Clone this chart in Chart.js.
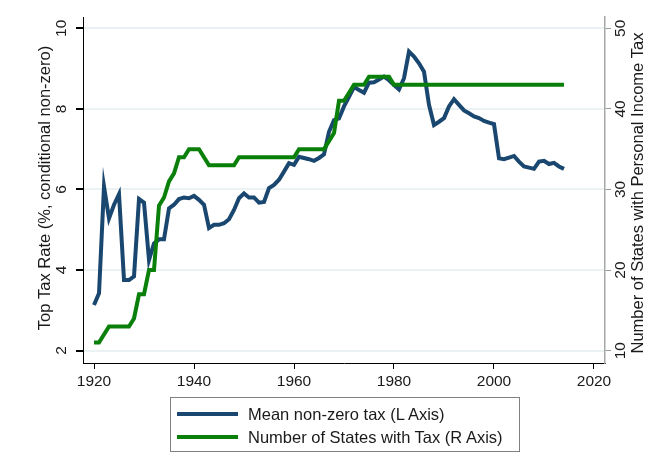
<!DOCTYPE html>
<html>
<head>
<meta charset="utf-8">
<script src="https://cdn.jsdelivr.net/npm/chart.js@4.4.1/dist/chart.umd.min.js"></script>
<style>
    body { margin: 0; background: #fff; }
    #wrap { position: relative; width: 660px; height: 471px; }
    #legend {
        position: absolute; left: 170px; top: 397px; width: 350px; height: 55px;
        border: 1px solid #808080; box-sizing: border-box;
        font-family: "Liberation Sans", Arial, sans-serif; font-size: 16.5px; color: #1a1a1a;
    }
    .row { position: absolute; left: 6px; height: 20px; display: flex; align-items: center; }
    .swatch { width: 61px; height: 4px; margin-right: 10px; }
</style>
</head>
<body>
<div id="wrap">
    <canvas id="taxChart" width="660" height="471"></canvas>
    <div id="legend"></div>
</div>
<script>
const years = [1920, 1921, 1922, 1923, 1924, 1925, 1926, 1927, 1928, 1929,
    1930, 1931, 1932, 1933, 1934, 1935, 1936, 1937, 1938, 1939,
    1940, 1941, 1942, 1943, 1944, 1945, 1946, 1947, 1948, 1949,
    1950, 1951, 1952, 1953, 1954, 1955, 1956, 1957, 1958, 1959,
    1960, 1961, 1962, 1963, 1964, 1965, 1966, 1967, 1968, 1969,
    1970, 1971, 1972, 1973, 1974, 1975, 1976, 1977, 1978, 1979,
    1980, 1981, 1982, 1983, 1984, 1985, 1986, 1987, 1988, 1989,
    1990, 1991, 1992, 1993, 1994, 1995, 1996, 1997, 1998, 1999,
    2000, 2001, 2002, 2003, 2004, 2005, 2006, 2007, 2008, 2009,
    2010, 2011, 2012, 2013, 2014];

// mean top rate among states with a tax (left axis)
const meanTax = [3.13, 3.42, 6.07, 5.28, 5.62, 5.88, 3.75, 3.75, 3.84, 5.76,
    5.67, 4.25, 4.66, 4.76, 4.76, 5.53, 5.62, 5.76, 5.80, 5.78,
    5.84, 5.74, 5.62, 5.04, 5.12, 5.12, 5.16, 5.26, 5.49, 5.78,
    5.90, 5.80, 5.80, 5.67, 5.69, 6.03, 6.11, 6.24, 6.44, 6.65,
    6.61, 6.81, 6.78, 6.75, 6.71, 6.78, 6.87, 7.43, 7.72, 7.76,
    8.06, 8.30, 8.54, 8.47, 8.40, 8.65, 8.66, 8.73, 8.80, 8.71,
    8.59, 8.48, 8.76, 9.42, 9.30, 9.13, 8.92, 8.10, 7.60, 7.68,
    7.77, 8.06, 8.24, 8.10, 7.96, 7.89, 7.81, 7.77, 7.70, 7.66,
    7.62, 6.77, 6.75, 6.79, 6.83, 6.69, 6.57, 6.54, 6.51, 6.69,
    6.71, 6.63, 6.66, 6.57, 6.51];

// number of states with an income tax (right axis)
const stateCount = [11, 11, 12, 13, 13, 13, 13, 13, 14, 17,
    17, 20, 20, 28, 29, 31, 32, 34, 34, 35,
    35, 35, 34, 33, 33, 33, 33, 33, 33, 34,
    34, 34, 34, 34, 34, 34, 34, 34, 34, 34,
    34, 35, 35, 35, 35, 35, 35, 36, 37, 41,
    41, 42, 43, 43, 43, 44, 44, 44, 44, 44,
    43, 43, 43, 43, 43, 43, 43, 43, 43, 43,
    43, 43, 43, 43, 43, 43, 43, 43, 43, 43,
    43, 43, 43, 43, 43, 43, 43, 43, 43, 43,
    43, 43, 43, 43, 43];

const xTicks = [1920, 1940, 1960, 1980, 2000, 2020];
const leftTicks = [2, 4, 6, 8, 10];
const rightTicks = [10, 20, 30, 40, 50];

const leftTitle = 'Top Tax Rate (%, conditional non-zero)';
const rightTitle = 'Number of States with Personal Income Tax';
const seriesLabels = ['Mean non-zero tax (L Axis)', 'Number of States with Tax (R Axis)'];
const seriesColors = ['#1a476f', '#0a800a'];

const FONT = '"Liberation Sans", Arial, sans-serif';
const TEXT = '#1a1a1a';

function toPoints(values) {
    return values.map((v, i) => ({ x: years[i], y: v }));
}

// y tick labels and titles are rotated in the original, so draw them by hand
const verticalLabels = {
    id: 'verticalLabels',
    afterDraw(chart) {
        const ctx = chart.ctx;
        const area = chart.chartArea;
        const midY = (area.top + area.bottom) / 2;

        function rotText(text, x, y) {
            ctx.save();
            ctx.translate(x, y);
            ctx.rotate(-Math.PI / 2);
            ctx.fillText(text, 0, 0);
            ctx.restore();
        }

        ctx.save();
        ctx.fillStyle = TEXT;
        ctx.textAlign = 'center';
        ctx.textBaseline = 'middle';
        ctx.font = '15.5px ' + FONT;
        leftTicks.forEach(v => rotText(String(v), area.left - 21, chart.scales.y.getPixelForValue(v)));
        rightTicks.forEach(v => rotText(String(v), area.right + 16, chart.scales.y1.getPixelForValue(v)));
        ctx.font = '16.5px ' + FONT;
        rotText(leftTitle, area.left - 38, midY - 2);
        rotText(rightTitle, area.right + 33, midY + 3);
        ctx.restore();
    }
};

const ctx = document.getElementById('taxChart').getContext('2d');
const chart = new Chart(ctx, {
    type: 'line',
    data: {
        datasets: [{
            label: seriesLabels[0],
            data: toPoints(meanTax),
            yAxisID: 'y',
            borderColor: seriesColors[0],
            borderWidth: 4,
            pointRadius: 0,
            tension: 0,
            order: 1
        }, {
            label: seriesLabels[1],
            data: toPoints(stateCount),
            yAxisID: 'y1',
            borderColor: seriesColors[1],
            borderWidth: 4,
            pointRadius: 0,
            tension: 0,
            order: 0
        }]
    },
    options: {
        responsive: false,
        animation: false,
        layout: { padding: { top: 17, left: 0, right: 0, bottom: 0 } },
        plugins: {
            legend: { display: false },
            tooltip: { enabled: false }
        },
        scales: {
            x: {
                type: 'linear',
                min: 1917.8,
                max: 2022.2,
                afterBuildTicks: scale => { scale.ticks = xTicks.map(v => ({ value: v })); },
                afterFit: scale => { scale.height = 108; },
                grid: { drawOnChartArea: false, tickLength: 6, color: '#000' },
                border: { color: '#000', width: 1 },
                ticks: {
                    color: TEXT,
                    padding: 3,
                    maxRotation: 0,
                    font: { family: FONT, size: 15.5 },
                    callback: v => String(v)
                }
            },
            y: {
                position: 'left',
                min: 1.69,
                max: 10.28,
                afterBuildTicks: scale => { scale.ticks = leftTicks.map(v => ({ value: v })); },
                afterFit: scale => { scale.width = 83; },
                grid: { color: '#eaf2f3', lineWidth: 2, tickLength: 7, tickColor: '#000' },
                border: { color: '#000', width: 1 },
                ticks: { display: false }
            },
            y1: {
                position: 'right',
                min: 8.47,
                max: 51.4,
                afterBuildTicks: scale => { scale.ticks = rightTicks.map(v => ({ value: v })); },
                afterFit: scale => { scale.width = 55; },
                grid: { drawOnChartArea: false, tickLength: 6, color: '#9a9a9a' },
                border: { color: '#a8a8a8', width: 1.5 },
                ticks: { display: false }
            }
        }
    },
    plugins: [verticalLabels]
});

// legend box below the plot
const legend = document.getElementById('legend');
seriesLabels.forEach((label, i) => {
    const row = document.createElement('div');
    row.className = 'row';
    row.style.top = (6 + i * 23) + 'px';
    const sw = document.createElement('span');
    sw.className = 'swatch';
    sw.style.background = seriesColors[i];
    const txt = document.createElement('span');
    txt.textContent = label;
    row.appendChild(sw);
    row.appendChild(txt);
    legend.appendChild(row);
});
</script>
</body>
</html>
